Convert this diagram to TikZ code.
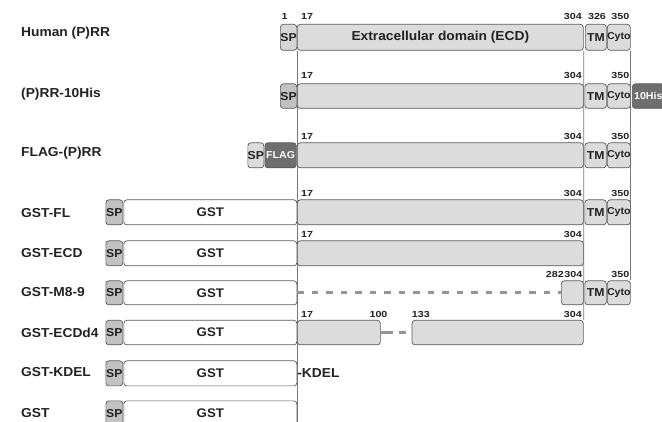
\documentclass[tikz,border=0pt]{standalone}
\usepackage{fontspec}
\setmainfont{Liberation Sans}[FakeStretch=1.06]
\newfontfamily\numfont{Liberation Sans}[FakeStretch=1.22]
\usetikzlibrary{backgrounds}
\definecolor{bordercol}{HTML}{5A5A5A}
\definecolor{lightfill}{HTML}{DCDCDC}
\definecolor{spfill}{HTML}{C2C2C2}
\definecolor{sponefill}{HTML}{D6D6D6}
\definecolor{darkfill}{HTML}{6E6E6E}
\definecolor{textcol}{HTML}{222222}
\definecolor{guidecol}{HTML}{7A7A7A}
\definecolor{dashcol}{HTML}{959595}
\newcommand\bx[7]{\node[#1,minimum width={#4-#3},minimum height={#6}] (#2) at (#3,#5) {\makebox[0pt]{#7}};}
\begin{document}
\begin{tikzpicture}[x=1pt,y=-1pt,
  box/.style={draw=bordercol,line width=0.7pt,rounded corners=3pt,inner sep=0pt,
    anchor=north west,text=textcol,font=\bfseries\fontsize{11.5}{12}\selectfont},
  light/.style={box,fill=lightfill},
  spbox/.style={box,fill=spfill},
  sponebox/.style={box,fill=sponefill},
  plain/.style={box,fill=white,font=\bfseries\fontsize{12.5}{13}\selectfont},
  darkbox/.style={box,fill=darkfill,text=white,font=\bfseries\fontsize{10}{11}\selectfont},
  cyto/.style={light,font=\bfseries\fontsize{10}{11}\selectfont},
  ecdtext/.style={light,font=\bfseries\fontsize{13}{14}\selectfont},
  num/.style={inner sep=0pt,text=textcol,font=\numfont\bfseries\fontsize{8.8}{9}\selectfont},
  lab/.style={inner sep=0pt,anchor=west,text=textcol,font=\bfseries\fontsize{13}{15}\selectfont},
  guide/.style={draw=guidecol,line width=0.7pt},
  dashline/.style={draw=dashcol,line width=2.8pt,dash pattern=on 6.5pt off 8pt},
  dashlinetwo/.style={draw=dashcol,line width=2.8pt,dash pattern=on 12pt off 6pt on 7pt off 20pt}
]
\clip (0,0) rectangle (662,422);

% left labels
\node[lab] (l1) at (21,33) {Human (P)RR};
\node[lab] (l2) at (21,94) {(P)RR-10His};
\node[lab] (l3) at (21,153) {FLAG-(P)RR};
\node[lab] (l4) at (21,213) {GST-FL};
\node[lab] (l5) at (21,253) {GST-ECD};
\node[lab] (l6) at (21,292) {GST-M8-9};
\node[lab] (l7) at (21,333) {GST-ECDd4};
\node[lab] (l8) at (21,372) {GST-KDEL};
\node[lab] (l9) at (21,413) {GST};

% row 1
\bx{sponebox}{sp1}{280}{296.5}{24}{26}{SP}
\bx{ecdtext}{ecd1}{297}{583}{24}{26}{Extracellular domain (ECD)}
\bx{light}{tm1}{585}{606}{24}{26}{TM}
\bx{cyto}{cy1}{607}{630}{24}{26}{Cyto}
\node[num,anchor=base] (n1a) at (284.7,19.5) {1};
\node[num,anchor=base west] (n1b) at (301,19.5) {17};
\node[num,anchor=base east] (n1c) at (582,19.5) {304};
\node[num,anchor=base] (n1d) at (597,19.5) {326};
\node[num,anchor=base east] (n1e) at (629.5,19.5) {350};

% row 2
\bx{spbox}{sp2}{280}{296.5}{83.5}{24.5}{SP}
\bx{light}{m2}{297}{583}{83.5}{24.5}{}
\bx{light}{tm2}{584.5}{606}{83.5}{24.5}{TM}
\bx{cyto}{cy2}{607}{630}{83.5}{24.5}{Cyto}
\bx{darkbox}{his2}{632}{664}{83.5}{24.5}{10His}
\node[num,anchor=base west] (n2b) at (301,79) {17};
\node[num,anchor=base east] (n2c) at (582,79) {304};
\node[num,anchor=base east] (n2e) at (629.5,79) {350};

% row 3
\bx{light}{sp3}{247.5}{263.5}{142.5}{25}{SP}
\bx{darkbox}{flag3}{264.5}{296}{142.5}{25}{FLAG}
\bx{light}{m3}{297}{583}{142.5}{25}{}
\bx{light}{tm3}{584.5}{606}{142.5}{25}{TM}
\bx{cyto}{cy3}{607}{630}{142.5}{25}{Cyto}
\node[num,anchor=base west] (n3b) at (301,139.5) {17};
\node[num,anchor=base east] (n3c) at (582,139.5) {304};
\node[num,anchor=base east] (n3e) at (629.5,139.5) {350};

% row 4
\bx{spbox}{sp4}{105.5}{122.5}{199.5}{25}{SP}
\bx{plain}{gst4}{123.5}{296.5}{199.5}{25}{GST}
\bx{light}{m4}{297}{583}{199.5}{25}{}
\bx{light}{tm4}{584.5}{606}{199.5}{25}{TM}
\bx{cyto}{cy4}{607}{630}{199.5}{25}{Cyto}
\node[num,anchor=base west] (n4b) at (301,196.5) {17};
\node[num,anchor=base east] (n4c) at (582,196.5) {304};
\node[num,anchor=base east] (n4e) at (629.5,196.5) {350};

% row 5
\bx{spbox}{sp5}{105.5}{122.5}{240.5}{25}{SP}
\bx{plain}{gst5}{123.5}{296.5}{240.5}{25}{GST}
\bx{light}{m5}{297}{583}{240.5}{25}{}
\node[num,anchor=base west] (n5b) at (301,237.5) {17};
\node[num,anchor=base east] (n5c) at (582,237.5) {304};

% row 6
\bx{spbox}{sp6}{105.5}{122.5}{280.5}{24}{SP}
\bx{plain}{gst6}{123.5}{296.5}{280.5}{24}{GST}
\bx{light}{s6}{561}{583}{280.5}{24}{}
\bx{light}{tm6}{584.5}{606}{280.5}{24}{TM}
\bx{cyto}{cy6}{607}{630}{280.5}{24}{Cyto}
\node[num,anchor=base east] (n6a) at (564,277.5) {282};
\node[num,anchor=base east] (n6c) at (582.5,277.5) {304};
\node[num,anchor=base east] (n6e) at (629.5,277.5) {350};

% row 7
\bx{spbox}{sp7}{105.5}{122.5}{320}{24.5}{SP}
\bx{plain}{gst7}{123.5}{296.5}{320}{24.5}{GST}
\bx{light}{a7}{297}{380}{320}{24.5}{}
\bx{light}{b7}{411.7}{583}{320}{24.5}{}
\node[num,anchor=base west] (n7b) at (301,317.5) {17};
\node[num,anchor=base] (n7c) at (378.5,317.5) {100};
\node[num,anchor=base west] (n7d) at (411.7,317.5) {133};
\node[num,anchor=base east] (n7e) at (582,317.5) {304};

% row 8
\bx{spbox}{sp8}{105.5}{122.5}{360.5}{25}{SP}
\bx{plain}{gst8}{123.5}{296.5}{360.5}{25}{GST}
\node[lab] (kdel) at (gst8.east) {-KDEL};

% row 9
\bx{spbox}{sp9}{105.5}{122.5}{400.5}{25}{SP}
\bx{plain}{gst9}{123.5}{296.5}{400.5}{25}{GST}

\coordinate (bot) at (0,422);
\begin{scope}[on background layer]
\fill[white] (0,0) rectangle (662,422);
\draw[guide] (ecd1.south west) -- (ecd1.south west |- bot);
\draw[guide] (ecd1.south east) -- (b7.north east);
\draw[guide] (cy1.south east) -- (cy6.north east);
\end{scope}
\draw[dashline] (gst6.east) -- (s6.west);
\draw[dashlinetwo] (a7.east) -- (b7.west);
\end{tikzpicture}
\end{document}
